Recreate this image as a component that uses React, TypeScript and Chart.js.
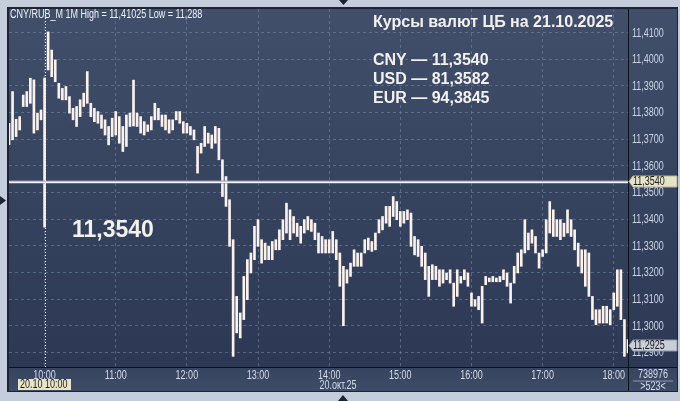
import React, { useEffect, useRef } from 'react';
import { Chart, registerables } from 'chart.js';

Chart.register(...registerables);

// 3-minute samples of the CNY/RUB_M 1M chart, 20.10.2025
const TIMES = [
  '09:30','09:33','09:36','09:39','09:42','09:45','09:48','09:51','09:54','09:57',
  '10:00','10:03','10:06','10:09','10:12','10:15','10:18','10:21','10:24','10:27','10:30','10:33','10:36','10:39','10:42','10:45','10:48','10:51','10:54','10:57',
  '11:00','11:03','11:06','11:09','11:12','11:15','11:18','11:21','11:24','11:27','11:30','11:33','11:36','11:39','11:42','11:45','11:48','11:51','11:54','11:57',
  '12:00','12:03','12:06','12:09','12:12','12:15','12:18','12:21','12:24','12:27','12:30','12:33','12:36','12:39','12:42','12:45','12:48','12:51','12:54','12:57',
  '13:00','13:03','13:06','13:09','13:12','13:15','13:18','13:21','13:24','13:27','13:30','13:33','13:36','13:39','13:42','13:45','13:48','13:51','13:54','13:57',
  '14:00','14:03','14:06','14:09','14:12','14:15','14:18','14:21','14:24','14:27','14:30','14:33','14:36','14:39','14:42','14:45','14:48','14:51','14:54','14:57',
  '15:00','15:03','15:06','15:09','15:12','15:15','15:18','15:21','15:24','15:27','15:30','15:33','15:36','15:39','15:42','15:45','15:48','15:51','15:54','15:57',
  '16:00','16:03','16:06','16:09','16:12','16:15','16:18','16:21','16:24','16:27','16:30','16:33','16:36','16:39','16:42','16:45','16:48','16:51','16:54','16:57',
  '17:00','17:03','17:06','17:09','17:12','17:15','17:18','17:21','17:24','17:27','17:30','17:33','17:36','17:39','17:42','17:45','17:48','17:51','17:54','17:57',
  '18:00','18:03','18:06','18:09','18:12',
];

const LOWS = [
  11.368, 11.3698, 11.371, 11.3735, 11.3823, 11.3823, 11.3835, 11.3723, 11.3735, 11.3773,
  11.337, 11.396, 11.3935, 11.3916, 11.3854, 11.3848, 11.3848, 11.3798, 11.3773, 11.3748,
  11.3785, 11.3823, 11.3835, 11.3785, 11.3766, 11.376, 11.3741, 11.3716, 11.3679, 11.371,
  11.3716, 11.3685, 11.3654, 11.3673, 11.3748, 11.375, 11.3748, 11.3723, 11.3716, 11.3729,
  11.3735, 11.3773, 11.3773, 11.3748, 11.3735, 11.3723, 11.3735, 11.3773, 11.376, 11.3723,
  11.3723, 11.3716, 11.3698, 11.3573, 11.3648, 11.3673, 11.3685, 11.3666, 11.3685, 11.3623,
  11.3485, 11.3448, 11.3298, 11.2885, 11.2973, 11.2954, 11.3023, 11.3098, 11.3198, 11.3248,
  11.3298, 11.3235, 11.3248, 11.3248, 11.3248, 11.3285, 11.3285, 11.3323, 11.3348, 11.3323,
  11.3348, 11.3335, 11.331, 11.3348, 11.336, 11.3354, 11.3323, 11.3273, 11.3273, 11.3273,
  11.3273, 11.3273, 11.3248, 11.3148, 11.30, 11.316, 11.3185, 11.3223, 11.3223,
  11.3223, 11.3273, 11.3285, 11.3279, 11.3285, 11.3348, 11.336, 11.3385, 11.3373, 11.341,
  11.3398, 11.3373, 11.3385, 11.3398, 11.3298, 11.3266, 11.326, 11.3223, 11.3173, 11.311,
  11.3173, 11.3173, 11.3148, 11.316, 11.3173, 11.316, 11.3073, 11.311, 11.316, 11.3173,
  11.3148, 11.3073, 11.3073, 11.306, 11.301, 11.3154, 11.3165, 11.3165, 11.3165, 11.3165,
  11.3173, 11.3148, 11.3085, 11.316, 11.3198, 11.3223, 11.3273, 11.3285, 11.331, 11.3273,
  11.3216, 11.326, 11.3273, 11.3348, 11.3335, 11.3335, 11.3323, 11.3335, 11.3348, 11.3335,
  11.3285, 11.3223, 11.3198, 11.3148, 11.311, 11.3023, 11.3004, 11.301, 11.301, 11.301,
  11.3004, 11.306, 11.3073, 11.3023, 11.2885, 11.2898,
];

const HIGHS = [
  11.376, 11.3879, 11.3775, 11.3785, 11.3866, 11.3879, 11.3929, 11.3923, 11.3798, 11.381,
  11.393, 11.4103, 11.4035, 11.3998, 11.391, 11.3891, 11.3898, 11.386, 11.3816, 11.3823,
  11.3848, 11.3873, 11.3954, 11.3835, 11.3816, 11.3804, 11.3791, 11.3773, 11.3748, 11.3779,
  11.3804, 11.3785, 11.3748, 11.3791, 11.3798, 11.3922, 11.3798, 11.3785, 11.3766, 11.3754,
  11.3785, 11.3835, 11.3816, 11.3791, 11.3791, 11.3773, 11.3773, 11.3804, 11.3804, 11.3766,
  11.376, 11.3748, 11.3735, 11.3673, 11.3685, 11.3748, 11.3723, 11.3716, 11.3748, 11.3741,
  11.3623, 11.356, 11.3473, 11.3323, 11.311, 11.3048, 11.3185, 11.3248, 11.3273, 11.3373,
  11.3398, 11.3323, 11.331, 11.3298, 11.3316, 11.3323, 11.336, 11.3398, 11.346, 11.3435,
  11.341, 11.3385, 11.3373, 11.3398, 11.341, 11.3398, 11.3385, 11.3348, 11.3335, 11.3323,
  11.3323, 11.3354, 11.3323, 11.3273, 11.3223, 11.321, 11.3235, 11.3285, 11.3273,
  11.3273, 11.3323, 11.3329, 11.3316, 11.3348, 11.3398, 11.341, 11.3448, 11.3448, 11.3485,
  11.3466, 11.3429, 11.3429, 11.3435, 11.3423, 11.3335, 11.3323, 11.3298, 11.3273, 11.3223,
  11.3229, 11.3223, 11.321, 11.321, 11.3198, 11.321, 11.316, 11.321, 11.3185, 11.321,
  11.3198, 11.3123, 11.3098, 11.311, 11.3148, 11.3185, 11.3179, 11.3185, 11.3179, 11.3185,
  11.321, 11.3198, 11.316, 11.3223, 11.3273, 11.3285, 11.3398, 11.3348, 11.336, 11.3335,
  11.3273, 11.3285, 11.3398, 11.3466, 11.3435, 11.3398, 11.3398, 11.3385, 11.3435, 11.3398,
  11.336, 11.331, 11.3285, 11.3285, 11.3273, 11.311, 11.306, 11.306, 11.3073, 11.3073,
  11.306, 11.3123, 11.321, 11.321, 11.3023, 11.2948,
];

const Y_TICKS = [11.29, 11.30, 11.31, 11.32, 11.33, 11.34, 11.35, 11.36, 11.37, 11.38, 11.39, 11.40, 11.41];
const Y_MIN = 11.2845;
const Y_MAX = 11.4189;
const CB_RATE = 11.354;
const LAST_PRICE = 11.2925;
const CURSOR_TIME = '10:00';

const HEADER = 'CNY/RUB_M 1M High = 11,41025 Low = 11,288';
const TITLE = 'Курсы валют ЦБ на 21.10.2025';
const RATES = ['CNY — 11,3540', 'USD — 81,3582', 'EUR — 94,3845'];
const BIG_LABEL = '11,3540';
const DATE_LABEL = '20.окт.25';
const CURSOR_LABEL = '20.10 10:00';
const VOLUME_LABEL = '738976';
const COUNT_LABEL = '>523<';

const SANS = "'Liberation Sans', Arial, sans-serif";
const SMALL = `12px ${SANS}`;
const NARROW_X = 0.75;

const fmt = (v: number) => v.toFixed(4).replace('.', ',');

// narrow small text (terminal-style condensed font)
function narrowText(ctx: CanvasRenderingContext2D, text: string, x: number, y: number, align: CanvasTextAlign = 'left') {
  ctx.save();
  ctx.translate(x, y);
  ctx.scale(NARROW_X, 1);
  ctx.textAlign = align;
  ctx.textBaseline = 'middle';
  ctx.font = SMALL;
  ctx.fillText(text, 0, 0);
  ctx.restore();
}

const decor = {
  id: 'decor',
  beforeDraw(chart: any) {
    const { ctx, chartArea: a } = chart;
    const R = 677;
    const B = 391;
    ctx.save();
    ctx.fillStyle = '#c3cddb';
    ctx.fillRect(0, 0, 680, 401);
    ctx.fillStyle = '#1c2434';
    ctx.fillRect(7, 7, R - 7 + 1, B - 7 + 1);
    const g = ctx.createLinearGradient(0, a.top, 0, a.bottom);
    g.addColorStop(0, '#414f6b');
    g.addColorStop(1, '#2c3854');
    ctx.fillStyle = g;
    ctx.fillRect(a.left, a.top, R - a.left, a.bottom - a.top);
    const g2 = ctx.createLinearGradient(0, a.bottom, 0, B);
    g2.addColorStop(0, '#37445f');
    g2.addColorStop(1, '#3f4c68');
    ctx.fillStyle = g2;
    ctx.fillRect(a.left, a.bottom, R - a.left, B - a.bottom);
    ctx.fillStyle = '#0d1119';
    ctx.fillRect(a.right, a.top, 1, B - a.top);
    ctx.fillRect(a.left, a.bottom, R - a.left, 1);
    ctx.fillStyle = '#1c2434';
    ctx.beginPath();
    ctx.moveTo(339, 0); ctx.lineTo(348, 0); ctx.lineTo(343.5, 5); ctx.closePath(); ctx.fill();
    ctx.beginPath();
    ctx.moveTo(338, 401); ctx.lineTo(348, 401); ctx.lineTo(343, 395); ctx.closePath(); ctx.fill();
    ctx.beginPath();
    ctx.moveTo(0, 196); ctx.lineTo(0, 205); ctx.lineTo(6, 200.5); ctx.closePath(); ctx.fill();
    ctx.restore();
  },
  afterDatasetsDraw(chart: any) {
    const { ctx, chartArea: a, scales } = chart;
    const y = scales.y;
    const x = scales.x;
    ctx.save();

    // axis tick labels (from the scales' own ticks)
    ctx.fillStyle = '#ccd5e6';
    y.ticks.forEach((t: any, i: number) => {
      narrowText(ctx, fmt(t.value), a.right + 4, y.getPixelForTick(i) + 0.5);
    });
    ctx.fillStyle = '#d6dcea';
    x.ticks.forEach((t: any, i: number) => {
      narrowText(ctx, TIMES[t.value], x.getPixelForTick(i), a.bottom + 8.5, 'center');
    });

    // CB rate line
    const yc = Math.round(y.getPixelForValue(CB_RATE));
    ctx.fillStyle = '#8d96a8';
    ctx.fillRect(a.left, yc - 1.5, a.right - a.left, 3);
    ctx.fillStyle = '#f2f2f2';
    ctx.fillRect(a.left, yc - 0.5, a.right - a.left, 1.5);

    // cursor dotted line
    const xc = Math.round(x.getPixelForValue(TIMES.indexOf(CURSOR_TIME))) + 0.5;
    ctx.strokeStyle = '#ffffff';
    ctx.lineWidth = 1;
    ctx.setLineDash([1, 2]);
    ctx.beginPath();
    ctx.moveTo(xc, a.top);
    ctx.lineTo(xc, a.bottom);
    ctx.stroke();
    ctx.setLineDash([]);

    // header
    ctx.fillStyle = '#eef1f6';
    narrowText(ctx, HEADER, 10, 15);

    // title + rates
    ctx.textBaseline = 'middle';
    ctx.textAlign = 'left';
    ctx.fillStyle = '#f3f1ee';
    ctx.font = `bold 16px ${SANS}`;
    ctx.fillText(TITLE, 373, 23);
    RATES.forEach((t, i) => ctx.fillText(t, 373, 61 + i * 18.7));

    // big label
    ctx.font = `bold 23px ${SANS}`;
    ctx.fillText(BIG_LABEL, 72, 231);

    // price boxes on right axis
    const priceBox = (val: number, fill: string, stroke: string) => {
      const py = Math.round(y.getPixelForValue(val)) - 0.5;
      ctx.beginPath();
      ctx.moveTo(a.right + 1, py);
      ctx.lineTo(a.right + 5, py - 5.5);
      ctx.lineTo(677, py - 5.5);
      ctx.lineTo(677, py + 5.5);
      ctx.lineTo(a.right + 5, py + 5.5);
      ctx.closePath();
      ctx.fillStyle = fill;
      ctx.fill();
      ctx.strokeStyle = stroke;
      ctx.lineWidth = 1;
      ctx.stroke();
      ctx.fillStyle = '#1a1a1a';
      narrowText(ctx, fmt(val), a.right + 5, py + 0.5);
    };
    priceBox(CB_RATE, '#e6e4c8', '#b7b59c');
    priceBox(LAST_PRICE, '#c9cfd9', '#8f97a6');

    // cursor time box
    ctx.fillStyle = '#e8e5c6';
    ctx.fillRect(18, 379, 53, 11);
    ctx.fillStyle = '#1a1a1a';
    narrowText(ctx, CURSOR_LABEL, 20, 385);

    // date
    ctx.fillStyle = '#d6dcea';
    narrowText(ctx, DATE_LABEL, 338, 386, 'center');

    // volume / count
    narrowText(ctx, VOLUME_LABEL, 653, 375, 'center');
    narrowText(ctx, COUNT_LABEL, 653, 386.5, 'center');
    ctx.fillStyle = '#8e98ab';
    ctx.fillRect(633, 380.5, 40, 1);
    ctx.restore();
  },
};

export default function App() {
  const ref = useRef<HTMLCanvasElement | null>(null);

  useEffect(() => {
    const canvas = ref.current;
    if (!canvas) return;
    const chart = new Chart(canvas, {
      type: 'bar',
      data: {
        labels: TIMES,
        datasets: [
          {
            data: LOWS.map((l, i) => [l, HIGHS[i]]) as any,
            backgroundColor: '#fcf2ed',
            borderWidth: 0,
            barThickness: 2,
            borderSkipped: false,
          },
        ],
      },
      options: {
        responsive: false,
        devicePixelRatio: 1,
        animation: false,
        events: [],
        layout: { padding: { left: 9, top: 9, right: 3, bottom: 10 } },
        plugins: { legend: { display: false }, tooltip: { enabled: false } },
        scales: {
          x: {
            type: 'category',
            offset: false,
            grid: { offset: false, color: 'rgba(120,136,168,0.55)', lineWidth: 1, drawTicks: false },
            border: { display: false, dash: [3, 3] },
            afterBuildTicks: (scale: any) => {
              scale.ticks = scale.ticks.filter((t: any) => TIMES[t.value].endsWith(':00'));
            },
            afterFit: (scale: any) => {
              scale.height = 24;
            },
            ticks: { display: false, autoSkip: false, maxRotation: 0 },
          },
          y: {
            type: 'linear',
            position: 'right',
            min: Y_MIN,
            max: Y_MAX,
            grid: { color: 'rgba(120,136,168,0.55)', lineWidth: 1, drawTicks: false },
            border: { display: false, dash: [3, 3] },
            afterBuildTicks: (scale: any) => {
              scale.ticks = Y_TICKS.map((v) => ({ value: v }));
            },
            afterFit: (scale: any) => {
              scale.width = 49;
            },
            ticks: { display: false },
          },
        },
      },
      plugins: [decor],
    });
    return () => chart.destroy();
  }, []);

  return (
    <div style={{ position: 'fixed', left: 0, top: 0, width: 680, height: 401 }}>
      <canvas ref={ref} width={680} height={401} style={{ display: 'block', width: 680, height: 401 }} />
    </div>
  );
}
